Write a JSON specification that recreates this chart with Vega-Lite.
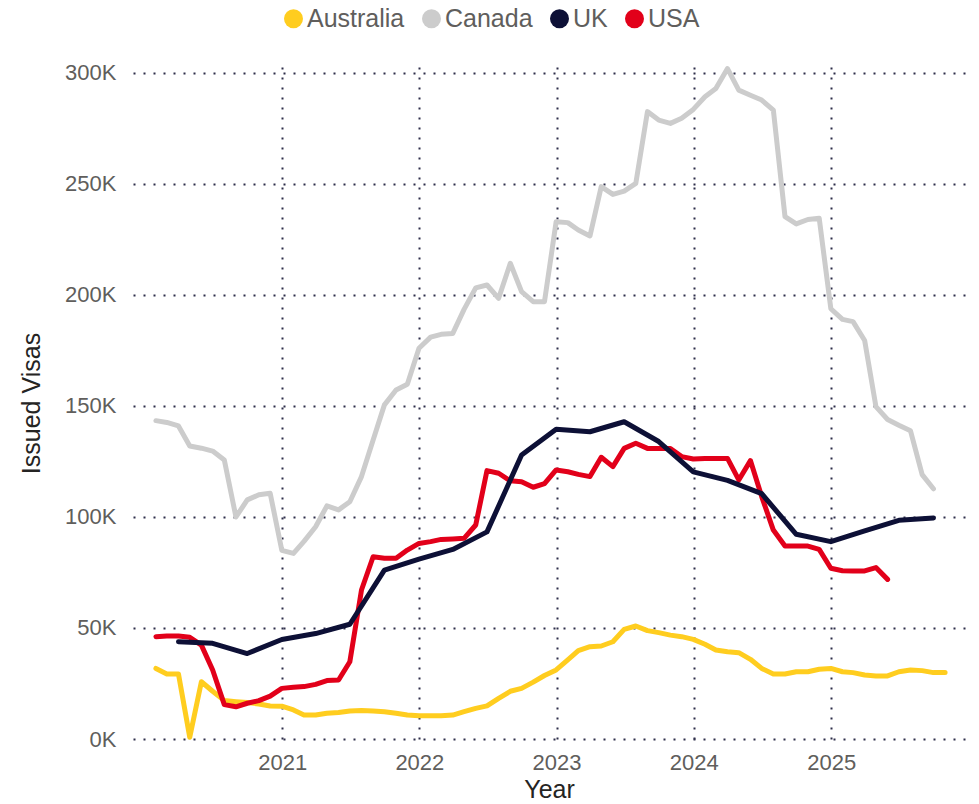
{
  "$schema": "https://vega.github.io/schema/vega-lite/v6.json",
  "width": 832,
  "height": 672,
  "autosize": "none",
  "padding": {"left": 133, "top": 67, "right": 14, "bottom": 65},
  "background": "white",
  "config": {"view": {"stroke": null}, "font": "Liberation Sans"},
  "data": {"values": [
    {"d": "2020-01-31", "Australia": 31800, "Canada": 143400, "UK": null, "USA": 46100},
    {"d": "2020-02-29", "Australia": 29300, "Canada": 142600, "UK": null, "USA": 46400},
    {"d": "2020-03-31", "Australia": 29300, "Canada": 141000, "UK": 43800, "USA": 46400},
    {"d": "2020-04-30", "Australia": 800, "Canada": 132000, "UK": null, "USA": 45800},
    {"d": "2020-05-31", "Australia": 25800, "Canada": 131000, "UK": null, "USA": 42300},
    {"d": "2020-06-30", "Australia": 21500, "Canada": 129700, "UK": 43100, "USA": 31100},
    {"d": "2020-07-31", "Australia": 17300, "Canada": 125700, "UK": null, "USA": 15500},
    {"d": "2020-08-31", "Australia": 16800, "Canada": 100000, "UK": null, "USA": 14500},
    {"d": "2020-09-30", "Australia": 16400, "Canada": 107700, "UK": 38500, "USA": 16100},
    {"d": "2020-10-31", "Australia": 15800, "Canada": 110000, "UK": null, "USA": 17300},
    {"d": "2020-11-30", "Australia": 14900, "Canada": 110700, "UK": null, "USA": 19300},
    {"d": "2020-12-31", "Australia": 14800, "Canada": 85000, "UK": 44800, "USA": 22800},
    {"d": "2021-01-31", "Australia": 13100, "Canada": 83600, "UK": null, "USA": 23300},
    {"d": "2021-02-28", "Australia": 10800, "Canada": 89000, "UK": null, "USA": 23600},
    {"d": "2021-03-31", "Australia": 10800, "Canada": 95600, "UK": 47500, "USA": 24600},
    {"d": "2021-04-30", "Australia": 11600, "Canada": 105000, "UK": null, "USA": 26300},
    {"d": "2021-05-31", "Australia": 11900, "Canada": 103200, "UK": null, "USA": 26600},
    {"d": "2021-06-30", "Australia": 12600, "Canada": 106900, "UK": 51700, "USA": 34800},
    {"d": "2021-07-31", "Australia": 12800, "Canada": 118200, "UK": null, "USA": 67100},
    {"d": "2021-08-31", "Australia": 12600, "Canada": 134700, "UK": null, "USA": 82100},
    {"d": "2021-09-30", "Australia": 12300, "Canada": 150500, "UK": 76100, "USA": 81400},
    {"d": "2021-10-31", "Australia": 11600, "Canada": 157200, "UK": null, "USA": 81400},
    {"d": "2021-11-30", "Australia": 10800, "Canada": 159800, "UK": null, "USA": 85100},
    {"d": "2021-12-31", "Australia": 10500, "Canada": 176000, "UK": 81000, "USA": 88100},
    {"d": "2022-01-31", "Australia": 10500, "Canada": 181000, "UK": null, "USA": 88900},
    {"d": "2022-02-28", "Australia": 10500, "Canada": 182300, "UK": null, "USA": 89900},
    {"d": "2022-03-31", "Australia": 10800, "Canada": 182700, "UK": 85400, "USA": 90100},
    {"d": "2022-04-30", "Australia": 12300, "Canada": 193500, "UK": null, "USA": 90400},
    {"d": "2022-05-31", "Australia": 13800, "Canada": 203200, "UK": null, "USA": 96400},
    {"d": "2022-06-30", "Australia": 14900, "Canada": 204500, "UK": 93300, "USA": 120900},
    {"d": "2022-07-31", "Australia": 18300, "Canada": 198500, "UK": null, "USA": 119700},
    {"d": "2022-08-31", "Australia": 21500, "Canada": 214300, "UK": null, "USA": 116300},
    {"d": "2022-09-30", "Australia": 22800, "Canada": 201500, "UK": 127900, "USA": 115900},
    {"d": "2022-10-31", "Australia": 25600, "Canada": 197000, "UK": null, "USA": 113400},
    {"d": "2022-11-30", "Australia": 28600, "Canada": 197000, "UK": null, "USA": 115000},
    {"d": "2022-12-31", "Australia": 31100, "Canada": 233000, "UK": 139500, "USA": 121200},
    {"d": "2023-01-31", "Australia": 35600, "Canada": 232600, "UK": null, "USA": 120400},
    {"d": "2023-02-28", "Australia": 39800, "Canada": 229300, "UK": null, "USA": 119200},
    {"d": "2023-03-31", "Australia": 41600, "Canada": 226600, "UK": 138400, "USA": 118200},
    {"d": "2023-04-30", "Australia": 41900, "Canada": 248800, "UK": null, "USA": 126900},
    {"d": "2023-05-31", "Australia": 43800, "Canada": 245300, "UK": null, "USA": 122700},
    {"d": "2023-06-30", "Australia": 49400, "Canada": 246800, "UK": 142900, "USA": 130900},
    {"d": "2023-07-31", "Australia": 50900, "Canada": 250300, "UK": null, "USA": 133200},
    {"d": "2023-08-31", "Australia": 48800, "Canada": 282600, "UK": null, "USA": 130900},
    {"d": "2023-09-30", "Australia": 47900, "Canada": 278800, "UK": 134000, "USA": 130900},
    {"d": "2023-10-31", "Australia": 46800, "Canada": 277300, "UK": null, "USA": 130900},
    {"d": "2023-11-30", "Australia": 46100, "Canada": 279600, "UK": null, "USA": 127200},
    {"d": "2023-12-31", "Australia": 44900, "Canada": 283600, "UK": 120300, "USA": 126100},
    {"d": "2024-01-31", "Australia": 42700, "Canada": 289300, "UK": null, "USA": 126400},
    {"d": "2024-02-29", "Australia": 40100, "Canada": 293000, "UK": null, "USA": 126400},
    {"d": "2024-03-31", "Australia": 39300, "Canada": 302000, "UK": 116500, "USA": 126400},
    {"d": "2024-04-30", "Australia": 38900, "Canada": 292300, "UK": null, "USA": 116700},
    {"d": "2024-05-31", "Australia": 35900, "Canada": 290000, "UK": null, "USA": 125400},
    {"d": "2024-06-30", "Australia": 31800, "Canada": 287800, "UK": 110500, "USA": 109200},
    {"d": "2024-07-31", "Australia": 29300, "Canada": 283300, "UK": null, "USA": 94100},
    {"d": "2024-08-31", "Australia": 29300, "Canada": 235300, "UK": null, "USA": 86900},
    {"d": "2024-09-30", "Australia": 30300, "Canada": 232000, "UK": 92200, "USA": 86900},
    {"d": "2024-10-31", "Australia": 30300, "Canada": 234000, "UK": null, "USA": 86900},
    {"d": "2024-11-30", "Australia": 31400, "Canada": 234600, "UK": null, "USA": 85400},
    {"d": "2024-12-31", "Australia": 31800, "Canada": 193800, "UK": 88900, "USA": 76900},
    {"d": "2025-01-31", "Australia": 30300, "Canada": 189000, "UK": null, "USA": 75800},
    {"d": "2025-02-28", "Australia": 29900, "Canada": 188000, "UK": null, "USA": 75700},
    {"d": "2025-03-31", "Australia": 28800, "Canada": 179500, "UK": 93800, "USA": 75700},
    {"d": "2025-04-30", "Australia": 28400, "Canada": 149700, "UK": null, "USA": 77200},
    {"d": "2025-05-31", "Australia": 28400, "Canada": 143900, "UK": null, "USA": 71900},
    {"d": "2025-06-30", "Australia": 30300, "Canada": 141300, "UK": 98500, "USA": null},
    {"d": "2025-07-31", "Australia": 31100, "Canada": 138800, "UK": null, "USA": null},
    {"d": "2025-08-31", "Australia": 30800, "Canada": 119100, "UK": null, "USA": null},
    {"d": "2025-09-30", "Australia": 29900, "Canada": 112700, "UK": 99600, "USA": null},
    {"d": "2025-10-31", "Australia": 29900, "Canada": null, "UK": null, "USA": null}
  ]},
  "transform": [
    {"fold": ["Australia", "Canada", "UK", "USA"], "as": ["c", "v"]},
    {"filter": "isValid(datum.v)"}
  ],
  "mark": {"type": "line", "strokeWidth": 5, "strokeCap": "round", "strokeJoin": "round"},
  "encoding": {
    "x": {
      "field": "d",
      "type": "temporal",
      "scale": {
        "type": "utc",
        "domain": [
          {"year": 2019, "month": 12, "date": 1, "utc": true},
          {"year": 2025, "month": 12, "date": 23, "utc": true}
        ]
      },
      "axis": {
        "title": "Year",
        "titleFontSize": 25,
        "titleColor": "#252423",
        "titleFontWeight": "normal",
        "titleBaseline": "alphabetic",
        "titleY": 58,
        "values": [
          {"year": 2021, "month": 1, "date": 1, "utc": true},
          {"year": 2022, "month": 1, "date": 1, "utc": true},
          {"year": 2023, "month": 1, "date": 1, "utc": true},
          {"year": 2024, "month": 1, "date": 1, "utc": true},
          {"year": 2025, "month": 1, "date": 1, "utc": true}
        ],
        "format": "%Y",
        "formatType": "utc",
        "labelFontSize": 22,
        "labelColor": "#605E5C",
        "labelBaseline": "alphabetic",
        "labelPadding": 30,
        "labelFlush": false,
        "labelOverlap": false,
        "ticks": false,
        "domain": false,
        "grid": true,
        "gridColor": "#2E2E4A",
        "gridDash": [2, 8],
        "gridWidth": 2
      }
    },
    "y": {
      "field": "v",
      "type": "quantitative",
      "scale": {"domain": [0, 302700], "nice": false, "zero": true},
      "axis": {
        "title": "Issued Visas",
        "titleFontSize": 25,
        "titleColor": "#252423",
        "titleFontWeight": "normal",
        "titleX": -102,
        "titleY": 336,
        "titleAngle": -90,
        "titleAlign": "center",
        "titleBaseline": "middle",
        "values": [0, 50000, 100000, 150000, 200000, 250000, 300000],
        "labelExpr": "datum.value / 1000 + 'K'",
        "labelFontSize": 22,
        "labelColor": "#605E5C",
        "labelPadding": 17,
        "ticks": false,
        "domain": false,
        "grid": true,
        "gridColor": "#2E2E4A",
        "gridDash": [2, 8],
        "gridWidth": 2
      }
    },
    "color": {
      "field": "c",
      "type": "nominal",
      "scale": {
        "domain": ["Australia", "Canada", "UK", "USA"],
        "range": ["#FFCD1F", "#CCCCCC", "#0D1036", "#E2001A"]
      },
      "legend": {
        "orient": "none",
        "legendX": 148,
        "legendY": -61,
        "direction": "horizontal",
        "title": null,
        "symbolType": "circle",
        "symbolSize": 361,
        "symbolStrokeWidth": 0,
        "labelFontSize": 25,
        "labelColor": "#605E5C",
        "labelOffset": 1,
        "columnPadding": 14,
        "labelLimit": 300,
        "encode": {
          "symbols": {
            "update": {
              "fill": {"scale": "color", "field": "value"},
              "fillOpacity": {"value": 1},
              "stroke": {"value": "transparent"},
              "shape": {"value": "circle"},
              "size": {"value": 361}
            }
          }
        }
      }
    }
  }
}
